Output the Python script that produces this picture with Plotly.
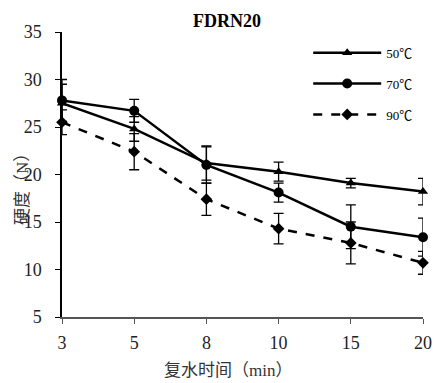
import plotly.graph_objects as go

times = ["3", "5", "8", "10", "15", "20"]
series_names = ["50℃", "70℃", "90℃"]
v50 = [27.5, 24.8, 21.2, 20.3, 19.1, 18.2]
e50 = [2.0, 1.3, 1.8, 1.0, 0.5, 1.4]
v70 = [27.8, 26.7, 21.0, 18.1, 14.5, 13.4]
e70 = [2.2, 1.2, 1.9, 1.0, 2.3, 2.0]
v90 = [25.5, 22.4, 17.4, 14.3, 12.8, 10.7]
e90 = [1.3, 1.9, 1.7, 1.6, 2.2, 1.2]

values = [v50, v70, v90]
errors = [e50, e70, e90]
symbols = ["triangle-up", "circle", "diamond"]
dashes = ["solid", "solid", "dash"]
sizes = [9, 10, 9]

serif = "Liberation Serif, Times New Roman, Noto Sans CJK SC, serif"

fig = go.Figure()
for i in range(3):
    fig.add_trace(go.Scatter(
        x=times, y=values[i], name=series_names[i],
        mode="lines+markers",
        line=dict(color="black", width=2.5, dash=dashes[i]),
        marker=dict(symbol=symbols[i], size=sizes[i], color="black"),
        error_y=dict(type="data", array=errors[i], visible=True,
                     color="black", thickness=1.3, width=5),
        cliponaxis=False,
        legendgroup=str(i),
    ))

fig.update_layout(
    width=437, height=383,
    margin=dict(l=62, r=14, t=32, b=66, autoexpand=False),
    paper_bgcolor="white", plot_bgcolor="white",
    title=dict(text="<b>FDRN20</b>", x=227 / 437, xanchor="center",
               y=1 - 21 / 383, yanchor="middle",
               font=dict(family=serif, size=18, color="black")),
    font=dict(family=serif, color="black"),
    showlegend=True,
    legend=dict(x=0.682, y=0.98, xanchor="left", yanchor="top",
                font=dict(family=serif, size=13, color="black"),
                tracegroupgap=11, itemwidth=68,
                bgcolor="rgba(0,0,0,0)"),
    xaxis=dict(type="category", range=[0, 5], showgrid=False,
               showline=True, linecolor="#555", linewidth=1.5,
               ticks="outside", ticklen=5, tickcolor="#555",
               ticklabelstandoff=4,
               tickfont=dict(family=serif, size=18, color="#222"),
               zeroline=False),
    yaxis=dict(range=[5, 35], dtick=5, showgrid=False,
               showline=True, linecolor="black", linewidth=1.5,
               ticks="outside", ticklen=5, tickcolor="black",
               ticklabelstandoff=10,
               tickfont=dict(family=serif, size=18, color="#222"),
               zeroline=False),
    annotations=[
        dict(text="复水时间（min）", xref="paper", yref="paper",
             x=(228 - 62) / 361, y=-(370 - 317) / 285,
             xanchor="center", yanchor="middle", showarrow=False,
             font=dict(family=serif, size=17, color="#333")),
        dict(text="硬度（N）", xref="paper", yref="paper",
             x=-(62 - 22) / 361, y=(317 - 185) / 285,
             xanchor="center", yanchor="middle", showarrow=False,
             textangle=-90,
             font=dict(family=serif, size=17, color="#333")),
    ],
)

fig.write_html("out.html")
